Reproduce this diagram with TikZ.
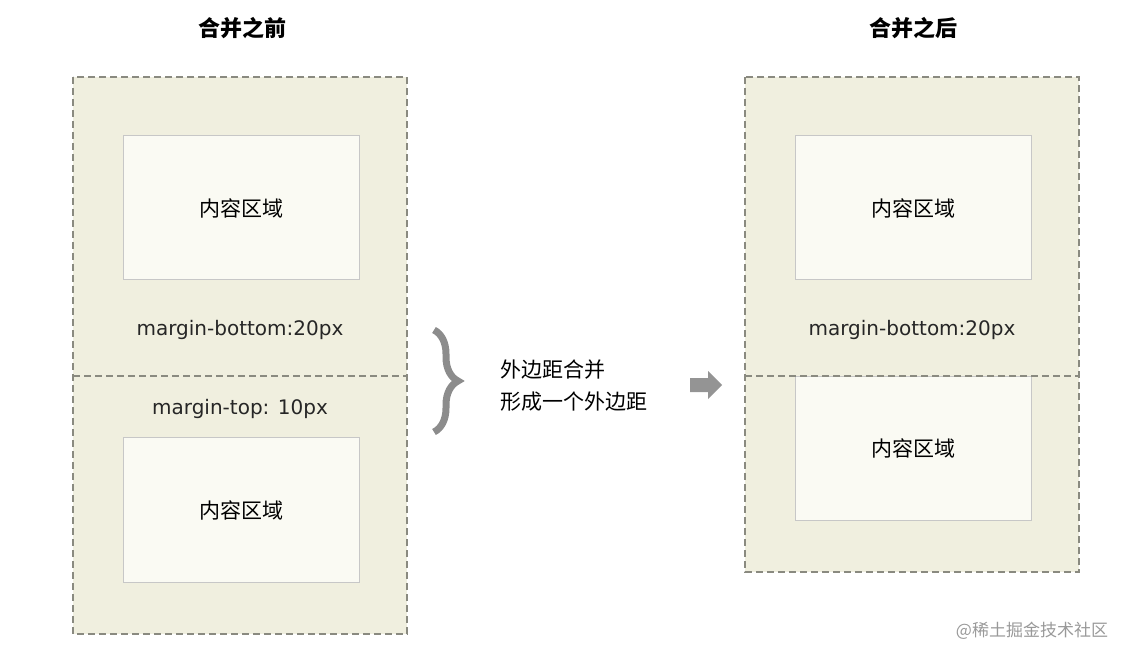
\documentclass[tikz,border=0pt]{standalone}
\usepackage{fontspec}
\setmainfont{DejaVu Sans}
\newfontfamily\cjk{Noto Sans CJK SC}
\usetikzlibrary{decorations.pathreplacing}
\definecolor{outerc}{HTML}{F0EFDF}
\definecolor{innerc}{HTML}{FAFAF3}
\definecolor{dashc}{HTML}{8A8A80}
\tikzset{x=1pt,y=-1pt,
 outerbox/.style={fill=outerc,draw=dashc,dashed,dash pattern=on 7pt off 4pt,line width=1.2pt},
 innerbox/.style={fill=innerc,draw=black!22,line width=1pt},
 cn/.style={font=\cjk\fontsize{21}{24}\selectfont},
 mg/.style={font=\fontsize{20}{24}\selectfont,text=black!85},
 ttl/.style={font=\cjk\bfseries\fontsize{22}{26}\selectfont}}
\begin{document}
\begin{tikzpicture}
\useasboundingbox (0,0) rectangle (1132,660);
% left
\draw[outerbox] (73,77) rectangle (407,634);
\draw[dashc,dash pattern=on 7pt off 4pt,line width=1.2pt] (73,376) -- (407,376);
\draw[innerbox] (123,136) rectangle (359,280);
\draw[innerbox] (123,437) rectangle (359,582);
\node[cn] (a1) at (241,208) {内容区域};
\node[cn] (a2) at (241,510) {内容区域};
\node[mg] (mb1) at (240,330) {margin-bottom:20px};
\node[mg] (mt1) at (240,409) {margin-top: 10px};
\node[ttl] (t1) at (242,28) {合并之前};
% right
\draw[outerbox] (745,77) rectangle (1079,572);
\draw[innerbox] (795,136) rectangle (1031,280);
\draw[innerbox] (795,376) rectangle (1031,520);
\draw[dashc,dash pattern=on 7pt off 4pt,line width=1.2pt] (745,376) -- (1079,376);
\node[cn] (b1) at (913,208) {内容区域};
\node[cn] (b2) at (913,448) {内容区域};
\node[mg] (mb2) at (912,330) {margin-bottom:20px};
\node[ttl] (t2) at (913,28) {合并之后};
% brace
\draw[black!45,line width=7pt,decorate,decoration={brace,amplitude=24pt}] (434,330) -- (434,432);
\node[cn,align=left,anchor=west,inner sep=0pt] (m) at (500,386) {外边距合并\\[8pt]形成一个外边距};
% arrow
\fill[black!42] (690,378) -- (708,378) -- (708,371) -- (722,385) -- (708,399) -- (708,392) -- (690,392) -- cycle;
\node[font=\cjk\fontsize{17}{20}\selectfont,text=black!40] (w) at (1032,631) {@稀土掘金技术社区};
\end{tikzpicture}
\end{document}
